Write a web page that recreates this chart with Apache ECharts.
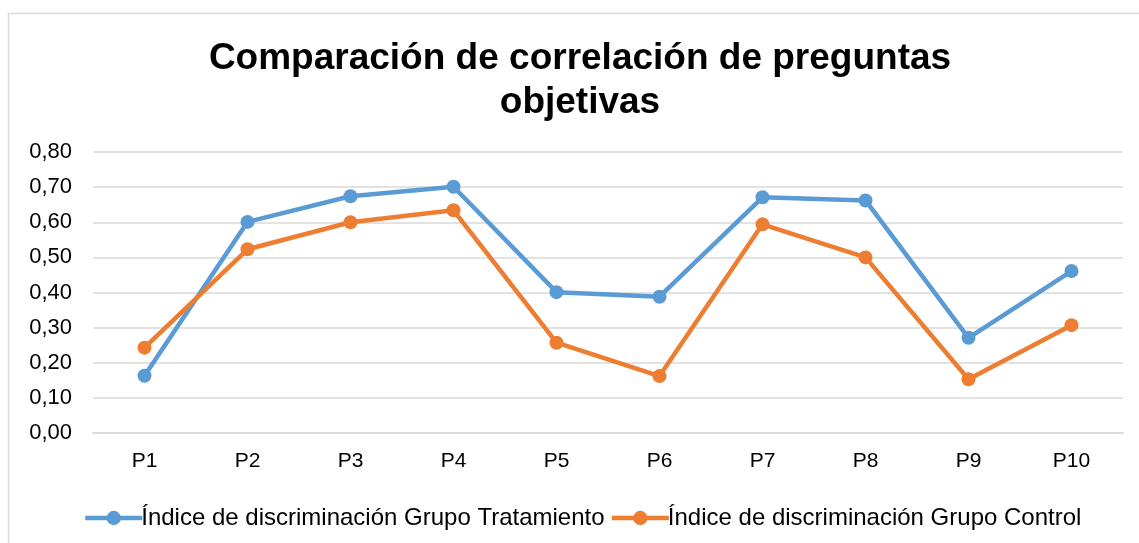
<!DOCTYPE html>
<html>
<head>
<meta charset="utf-8">
<script src="https://cdn.jsdelivr.net/npm/echarts@6/dist/echarts.min.js"></script>
<style>
  html, body { margin: 0; padding: 0; background: #fff; }
  #chart { width: 1139px; height: 543px; }
</style>
</head>
<body>
<div id="chart"></div>
<script>
// preguntas
const categories = ["P1", "P2", "P3", "P4", "P5", "P6", "P7", "P8", "P9", "P10"];
// Índice de discriminación por grupo
const tratamiento = [0.163, 0.601, 0.674, 0.701, 0.401, 0.388, 0.671, 0.662, 0.271, 0.461];
const control = [0.243, 0.523, 0.600, 0.634, 0.257, 0.162, 0.594, 0.500, 0.153, 0.307];
const seriesNames = ["Índice de discriminación Grupo Tratamiento", "Índice de discriminación Grupo Control"];

const font = "Liberation Sans, Arial, sans-serif";
const chart = echarts.init(document.getElementById("chart"));

chart.setOption({
  animation: false,
  backgroundColor: "#fff",
  graphic: [
    {
      type: "rect",
      shape: { x: 8.5, y: 13.5, width: 1200, height: 600 },
      style: { fill: "none", stroke: "#d9d9d9", lineWidth: 1.5 },
      z: -1
    },
    {
      // titulo en dos lineas
      type: "text",
      x: 580, y: 81,
      style: {
        text: "Comparación de correlación de preguntas\nobjetivas",
        font: "bold 37px " + font,
        fill: "#000",
        align: "center",
        verticalAlign: "middle",
        lineHeight: 44
      }
    }
  ],
  grid: { left: 93, right: 16, top: 152, bottom: 110 },
  legend: {
    left: 78, top: 501,
    itemWidth: 57, itemHeight: 18, itemGap: 5,
    lineStyle: { width: 4.5 },
    textStyle: { fontFamily: font, fontSize: 24, color: "#000", padding: [0, 0, 0, -6] },
    data: seriesNames
  },
  xAxis: {
    type: "category",
    data: categories,
    boundaryGap: true,
    axisLine: { lineStyle: { color: "#d9d9d9", width: 1.5 } },
    axisTick: { show: false },
    axisLabel: { color: "#000", fontFamily: font, fontSize: 21, margin: 18 }
  },
  yAxis: {
    type: "value",
    min: 0, max: 0.8, interval: 0.1,
    axisLine: { show: false },
    axisTick: { show: false },
    splitLine: { lineStyle: { color: "#d9d9d9", width: 1.5 } },
    axisLabel: {
      color: "#000", fontFamily: font, fontSize: 22, margin: 21,
      formatter: v => v.toFixed(2).replace(".", ",")
    }
  },
  series: [
    {
      name: seriesNames[0], type: "line", data: tratamiento,
      symbol: "circle", symbolSize: 14,
      lineStyle: { color: "#5b9bd5", width: 4.5 },
      itemStyle: { color: "#5b9bd5" }
    },
    {
      name: seriesNames[1], type: "line", data: control,
      symbol: "circle", symbolSize: 14,
      lineStyle: { color: "#ed7d31", width: 4.5 },
      itemStyle: { color: "#ed7d31" }
    }
  ]
});
</script>
</body>
</html>
